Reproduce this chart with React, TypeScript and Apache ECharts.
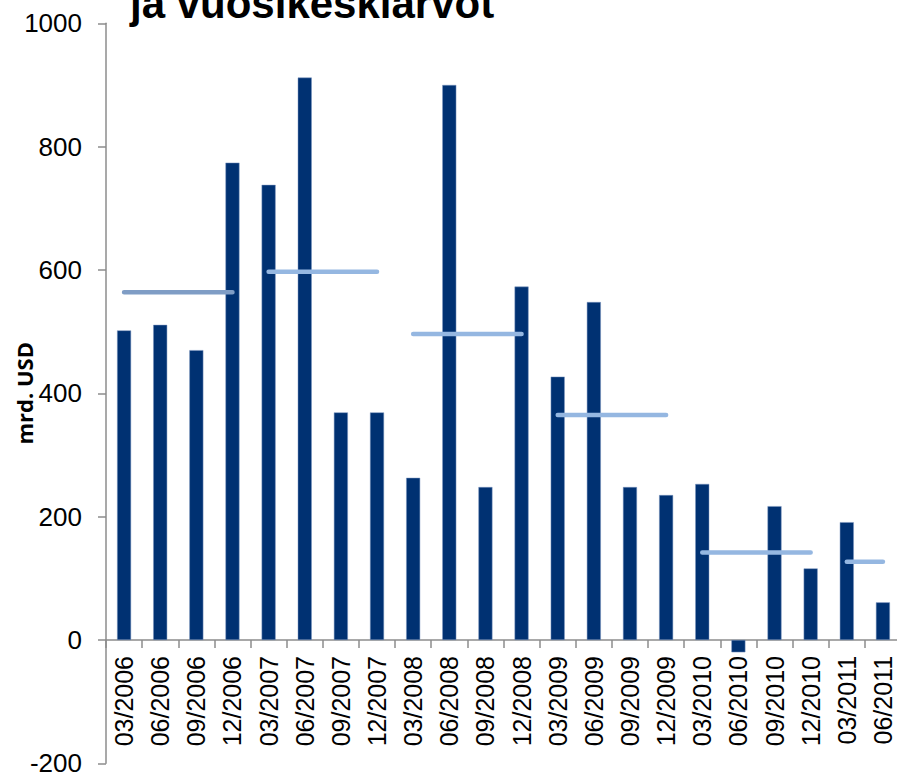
import { useEffect, useRef } from 'react';
import * as echarts from 'echarts';

const categories = [
  '03/2006', '06/2006', '09/2006', '12/2006',
  '03/2007', '06/2007', '09/2007', '12/2007',
  '03/2008', '06/2008', '09/2008', '12/2008',
  '03/2009', '06/2009', '09/2009', '12/2009',
  '03/2010', '06/2010', '09/2010', '12/2010',
  '03/2011', '06/2011',
];
const quarterValues = [
  502, 511, 470, 774,
  738, 912, 369, 369,
  263, 900, 248, 573,
  427, 548, 248, 235,
  253, -20, 217, 116,
  191, 61,
];
const years = ['2006', '2007', '2008', '2009', '2010', '2011'];
const yearAverages = [564, 597, 496, 365, 142, 127];
const yearLineColors = ['#7f9dc5', '#95b7e1', '#95b7e1', '#95b7e1', '#95b7e1', '#95b7e1'];
const yTicks = { min: -200, max: 1000, interval: 200 };
const titleText = 'ja vuosikeskiarvot';
const yAxisName = 'mrd. USD';

export default function App() {
  const ref = useRef<HTMLDivElement>(null);
  useEffect(() => {
    const chart = echarts.init(ref.current!, null, { renderer: 'svg' });
    const gridTop = 23.3;
    const gridBottom = 10.7;
    const plotHeight = 774 - gridTop - gridBottom;
    // distance of the zero line above the bottom of the plot
    const zeroOffset = (plotHeight * (0 - yTicks.min)) / (yTicks.max - yTicks.min);
    const avgSeries = years.map((yr, i) => ({
      type: 'line',
      name: 'avg ' + yr,
      data: categories.map((c) => (c.endsWith(yr) ? yearAverages[i] : null)),
      symbol: 'none',
      connectNulls: false,
      z: 5,
      lineStyle: { color: yearLineColors[i], width: 4.5, cap: 'round' },
      itemStyle: { color: yearLineColors[i] },
    }));
    chart.setOption({
      animation: false,
      backgroundColor: '#ffffff',
      textStyle: { fontFamily: '"Liberation Sans", Arial, sans-serif' },
      grid: {
        left: 106,
        right: 0,
        top: gridTop,
        bottom: gridBottom,
        containLabel: false,
        outerBoundsMode: 'none',
      },
      graphic: [
        {
          type: 'text',
          left: 130,
          top: -18,
          style: {
            text: titleText,
            font: 'bold 42px "Liberation Sans", Arial, sans-serif',
            fill: '#000000',
          },
        },
        {
          type: 'text',
          x: 24,
          y: gridTop + (774 - gridTop - gridBottom) / 2,
          rotation: Math.PI / 2,
          style: {
            text: yAxisName,
            font: 'bold 22px "Open Sans", sans-serif',
            fill: '#000000',
            align: 'center',
            verticalAlign: 'middle',
          },
        },
      ],
      xAxis: {
        type: 'category',
        data: categories,
        boundaryGap: true,
        position: 'bottom',
        offset: -zeroOffset,
        axisLine: { onZero: false, lineStyle: { color: '#8c8c8c', width: 1.5 } },
        axisTick: { show: true, length: 8, lineStyle: { color: '#8c8c8c', width: 1.5 } },
        axisLabel: {
          rotate: 90,
          interval: 0,
          margin: 16,
          color: '#000000',
          fontSize: 25,
          fontFamily: '"Liberation Sans", Arial, sans-serif',
        },
        splitLine: { show: false },
      },
      yAxis: {
        type: 'value',
        min: yTicks.min,
        max: yTicks.max,
        interval: yTicks.interval,
        axisLine: { show: true, lineStyle: { color: '#8c8c8c', width: 1.5 } },
        axisTick: { show: true, length: 8, lineStyle: { color: '#8c8c8c', width: 1.5 } },
        axisLabel: {
          margin: 24,
          color: '#000000',
          fontSize: 26,
          fontFamily: '"Liberation Sans", Arial, sans-serif',
          formatter: (v: number) => String(v),
        },
        splitLine: { show: false },
      },
      series: [
        {
          type: 'bar',
          name: 'quarter',
          data: quarterValues,
          barWidth: 14,
          z: 2,
          itemStyle: { color: '#003172', borderColor: '#7d97c0', borderWidth: 0.5 },
        },
        ...avgSeries,
      ],
    });
    return () => chart.dispose();
  }, []);
  return (
    <div
      style={{
        position: 'fixed',
        left: 0,
        top: 0,
        width: 897,
        height: 774,
        overflow: 'hidden',
        background: '#ffffff',
      }}
    >
      <div ref={ref} style={{ width: 901, height: 774 }} />
    </div>
  );
}
